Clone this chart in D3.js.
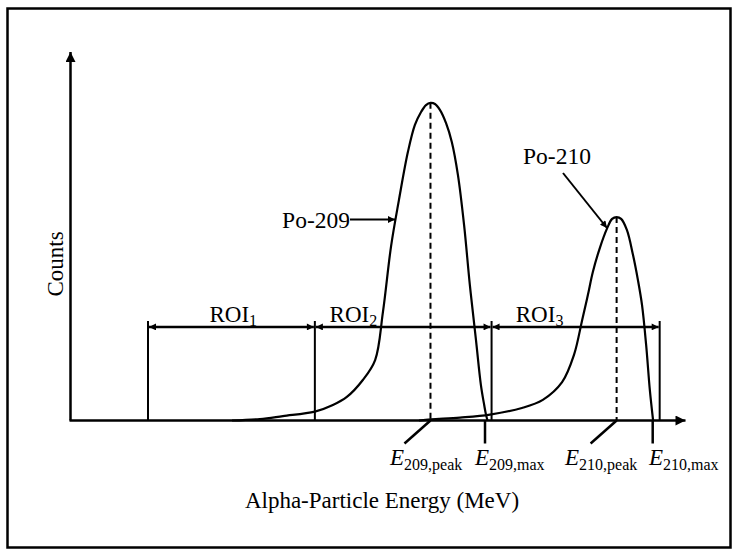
<!DOCTYPE html>
<html>
<head>
<meta charset="utf-8">
<script src="https://cdn.jsdelivr.net/npm/d3@7"></script>
<style>
  body { margin: 0; background: #fff; }
  text { font-family: "Liberation Serif", "Times New Roman", serif; fill: #000; }
</style>
</head>
<body>
<div id="chart"></div>
<script>
// Alpha spectrum sketch - Po-209 tracer and Po-210 peaks
// energies in MeV, counts in arbitrary units

// Po-209 peak (energy, counts)
const po209Energy = [4.394, 4.462, 4.518, 4.596, 4.640, 4.674, 4.713, 4.743, 4.762, 4.782, 4.801, 4.823, 4.840, 4.855, 4.867, 4.878, 4.889, 4.901, 4.916, 4.930, 4.945, 4.960, 4.974, 4.989, 5.001, 5.009, 5.013, 5.017];
const po209Counts = [0, 4, 12, 24, 42, 64, 110, 164, 294, 474, 598, 729, 802, 837, 856, 862, 859, 843, 807, 756, 666, 530, 368, 218, 96, 42, 18, 0];

// Po-210 peak (energy, counts)
const po210Energy = [4.850, 4.879, 4.950, 5.023, 5.101, 5.152, 5.199, 5.228, 5.248, 5.262, 5.274, 5.291, 5.309, 5.321, 5.332, 5.343, 5.357, 5.372, 5.384, 5.394, 5.404, 5.413, 5.421];
const po210Counts = [0, 3, 8, 16, 34, 56, 104, 178, 273, 341, 403, 468, 522, 547, 552, 547, 517, 449, 381, 313, 205, 83, 0];

// region of interest boundaries
const roiBounds = [4.189, 4.596, 5.027, 5.437];
const roiNames = ["1", "2", "3"];

// energy markers under the axis
const markerNames = ["209,peak", "209,max", "210,peak", "210,max"];
const markerEnergy = [4.878, 5.011, 5.332, 5.420];
const markerIsPeak = [true, false, true, false];
const peakHeights = [862, 552];

const peakLabels = ["Po-209", "Po-210"];

const W = 738, H = 552;
const svg = d3.select("#chart").append("svg")
    .attr("width", W)
    .attr("height", H);

// scales
const x = d3.scaleLinear().domain([4.0, 5.5]).range([70.5, 685.5]);
const y = d3.scaleLinear().domain([0, 1000]).range([420.5, 52]);

// frame
svg.append("rect")
    .attr("x", 7.5).attr("y", 8.5)
    .attr("width", 723).attr("height", 539)
    .attr("fill", "none").attr("stroke", "#000").attr("stroke-width", 2.5);

// arrow markers
const defs = svg.append("defs");
function addMarker(id, w, h) {
    defs.append("marker")
        .attr("id", id)
        .attr("viewBox", "0 0 10 10")
        .attr("refX", 10).attr("refY", 5)
        .attr("markerUnits", "userSpaceOnUse")
        .attr("markerWidth", w).attr("markerHeight", h)
        .attr("orient", "auto-start-reverse")
      .append("path")
        .attr("d", "M0,0L10,5L0,10Z")
        .attr("fill", "#000");
}
addMarker("axisHead", 12, 10);
addMarker("smallHead", 9, 7);

// axes
svg.append("line")
    .attr("x1", x(4.0)).attr("y1", y(0))
    .attr("x2", x(4.0)).attr("y2", y(1000))
    .attr("stroke", "#000").attr("stroke-width", 2.5)
    .attr("marker-end", "url(#axisHead)");
svg.append("line")
    .attr("x1", x(4.0) - 1).attr("y1", y(0))
    .attr("x2", x(5.5)).attr("y2", y(0))
    .attr("stroke", "#000").attr("stroke-width", 2.5)
    .attr("marker-end", "url(#axisHead)");

// ROI boundaries and double arrows
const roiTop = 270, roiLevel = 254;
svg.selectAll(".roiLine")
    .data(roiBounds)
    .enter().append("line")
    .attr("x1", d => x(d)).attr("x2", d => x(d))
    .attr("y1", y(0)).attr("y2", y(roiTop))
    .attr("stroke", "#000").attr("stroke-width", 2);

svg.selectAll(".roiArrow")
    .data(roiNames)
    .enter().append("line")
    .attr("x1", (d, i) => x(roiBounds[i]) + 1)
    .attr("x2", (d, i) => x(roiBounds[i + 1]) - 1)
    .attr("y1", y(roiLevel)).attr("y2", y(roiLevel))
    .attr("stroke", "#000").attr("stroke-width", 2.5)
    .attr("marker-start", "url(#smallHead)")
    .attr("marker-end", "url(#smallHead)");

const roiLabelX = [4.339, 4.632, 5.086];
roiNames.forEach(function(n, i) {
    const t = svg.append("text")
        .attr("x", x(roiLabelX[i]))
        .attr("y", 321.5)
        .style("font-size", "23px");
    t.append("tspan").text("ROI");
    t.append("tspan").attr("dy", 4).style("font-size", "16px").text(n);
});

// dashed peak lines
svg.selectAll(".peakLine")
    .data(markerEnergy.filter((d, i) => markerIsPeak[i]))
    .enter().append("line")
    .attr("x1", d => x(d)).attr("x2", d => x(d))
    .attr("y1", (d, i) => y(peakHeights[i]))
    .attr("y2", y(0))
    .attr("stroke", "#000").attr("stroke-width", 2)
    .attr("stroke-dasharray", "6,4");

// peaks
const line = d3.line()
    .x(d => x(d[0]))
    .y(d => y(d[1]))
    .curve(d3.curveCatmullRom.alpha(0.5));

svg.append("path")
    .datum(po209Energy.map((e, i) => [e, po209Counts[i]]))
    .attr("d", line)
    .attr("fill", "none").attr("stroke", "#000").attr("stroke-width", 2.2);

svg.append("path")
    .datum(po210Energy.map((e, i) => [e, po210Counts[i]]))
    .attr("d", line)
    .attr("fill", "none").attr("stroke", "#000").attr("stroke-width", 2.2);

// peak labels
svg.append("text")
    .attr("x", 350).attr("y", 228)
    .attr("text-anchor", "end")
    .style("font-size", "23.5px")
    .text(peakLabels[0]);
svg.append("line")
    .attr("x1", 350).attr("y1", 219.5)
    .attr("x2", 395).attr("y2", 219.5)
    .attr("stroke", "#000").attr("stroke-width", 2)
    .attr("marker-end", "url(#smallHead)");

svg.append("text")
    .attr("x", 557).attr("y", 164)
    .attr("text-anchor", "middle")
    .style("font-size", "23.5px")
    .text(peakLabels[1]);
svg.append("line")
    .attr("x1", 563).attr("y1", 173)
    .attr("x2", 607).attr("y2", 228)
    .attr("stroke", "#000").attr("stroke-width", 2)
    .attr("marker-end", "url(#smallHead)");

// energy markers under the axis
markerEnergy.forEach(function(e, i) {
    const px = x(e);
    svg.append("line")
        .attr("x1", px).attr("y1", y(0))
        .attr("x2", markerIsPeak[i] ? px - 26 : px)
        .attr("y2", y(0) + 23)
        .attr("stroke", "#000").attr("stroke-width", 2.5);
});

const markerLabelX = [390, 475, 565, 649];
markerNames.forEach(function(n, i) {
    const t = svg.append("text")
        .attr("x", markerLabelX[i])
        .attr("y", 465)
        .style("font-size", "23px");
    t.append("tspan").style("font-style", "italic").text("E");
    t.append("tspan").attr("dy", 5).style("font-size", "16px").text(n);
});

// axis titles
svg.append("text")
    .attr("transform", "translate(63,264) rotate(-90)")
    .attr("text-anchor", "middle")
    .style("font-size", "23px")
    .text("Counts");

svg.append("text")
    .attr("x", 382).attr("y", 508)
    .attr("text-anchor", "middle")
    .style("font-size", "23px")
    .text("Alpha-Particle Energy (MeV)");
</script>
</body>
</html>
